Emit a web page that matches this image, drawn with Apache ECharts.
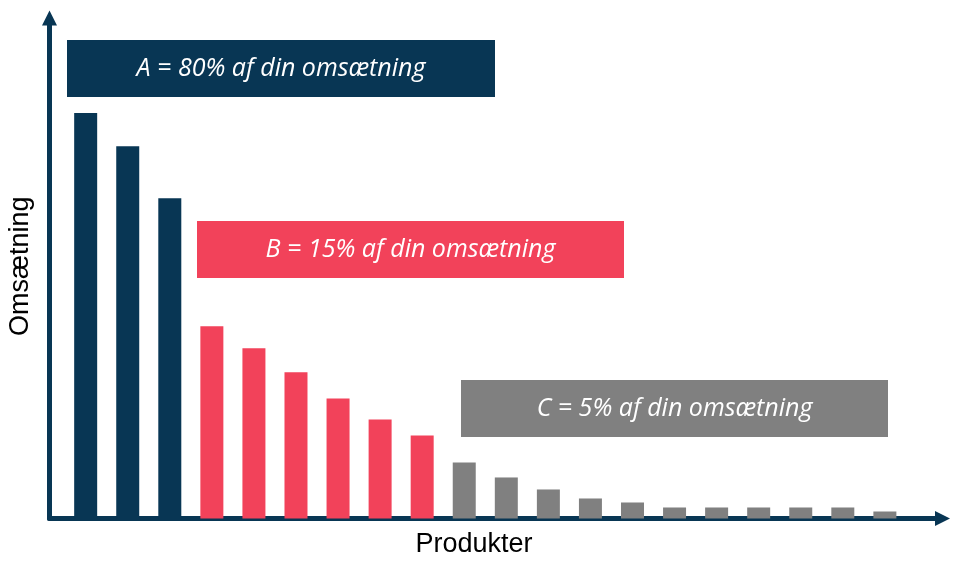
<!DOCTYPE html>
<html>
<head>
    <meta charset="utf-8">
    <title>ABC-analyse</title>
    <script src="https://cdn.jsdelivr.net/npm/echarts@6/dist/echarts.min.js"></script>
    <style>
        html, body { margin: 0; padding: 0; background: #fff; }
        #chart1 { width: 958px; height: 565px; }
    </style>
</head>
<body>
<div id="chart1"></div>
<script type="text/javascript">
    // produkt nr., omsætning (aflæst), gruppe
    var products = [1, 2, 3, 4, 5, 6, 7, 8, 9, 10, 11, 12, 13, 14, 15, 16, 17, 18, 19, 20];
    var revenue  = [405, 372, 320, 192, 170, 146, 120, 99, 83, 56, 41, 29, 20, 16, 11, 11, 11, 11, 11, 7];
    var groups   = ['A', 'A', 'A', 'B', 'B', 'B', 'B', 'B', 'B', 'C', 'C', 'C', 'C', 'C', 'C', 'C', 'C', 'C', 'C', 'C'];
    var groupText = {
        A: 'A = 80% af din omsætning',
        B: 'B = 15% af din omsætning',
        C: 'C = 5% af din omsætning'
    };

    var navy = '#083654';
    var groupColors = { A: navy, B: '#f2425a', C: '#808080' };

    var myChart = echarts.init(document.getElementById('chart1'));

    var barData = products.map(function (p, i) {
        return { value: [p, revenue[i]], itemStyle: { color: groupColors[groups[i]] } };
    });

    // label-bokse
    function box(g, x, y, w, h) {
        return {
            type: 'group',
            left: x, top: y,
            children: [{
                type: 'rect',
                shape: { x: 0, y: 0, width: w, height: h },
                style: { fill: groupColors[g] }
            }, {
                type: 'text',
                x: w / 2, y: h / 2,
                style: {
                    text: groupText[g],
                    fill: '#fff',
                    font: 'italic 25px "Open Sans"',
                    align: 'center',
                    verticalAlign: 'middle'
                }
            }]
        };
    }

    function axisLine() {
        return {
            show: true, onZero: false,
            symbol: ['none', 'triangle'], symbolSize: [15, 15],
            lineStyle: { color: navy, width: 5 }
        };
    }

    var option = {
        animation: false,
        grid: { left: 49.5, right: 15.5, top: 18, bottom: 46.5, outerBoundsMode: 'none', containLabel: false },
        xAxis: {
            type: 'value',
            min: 0.14,
            max: 21.37,
            name: 'Produkter',
            nameLocation: 'middle',
            nameGap: 13,
            nameTextStyle: {
                fontFamily: 'Liberation Sans', fontSize: 27, color: '#000',
                verticalAlign: 'top', padding: [0, 44, 0, 0]
            },
            axisLine: axisLine(),
            axisTick: { show: false },
            axisLabel: { show: false },
            splitLine: { show: false }
        },
        yAxis: {
            type: 'value',
            min: 0,
            max: 500,
            name: 'Omsætning',
            nameLocation: 'middle',
            nameGap: 15,
            nameTextStyle: {
                fontFamily: 'Liberation Sans', fontSize: 27, color: '#000',
                verticalAlign: 'bottom', padding: [0, 0, 0, 4]
            },
            axisLine: axisLine(),
            axisTick: { show: false },
            axisLabel: { show: false },
            splitLine: { show: false }
        },
        series: [{
            type: 'bar',
            barWidth: 23,
            data: barData,
            z: 1
        }],
        graphic: [
            box('A', 67, 40, 428, 57),
            box('B', 197, 221, 427, 57),
            box('C', 461, 380, 427, 57)
        ]
    };
    myChart.setOption(option);
</script>
</body>
</html>
